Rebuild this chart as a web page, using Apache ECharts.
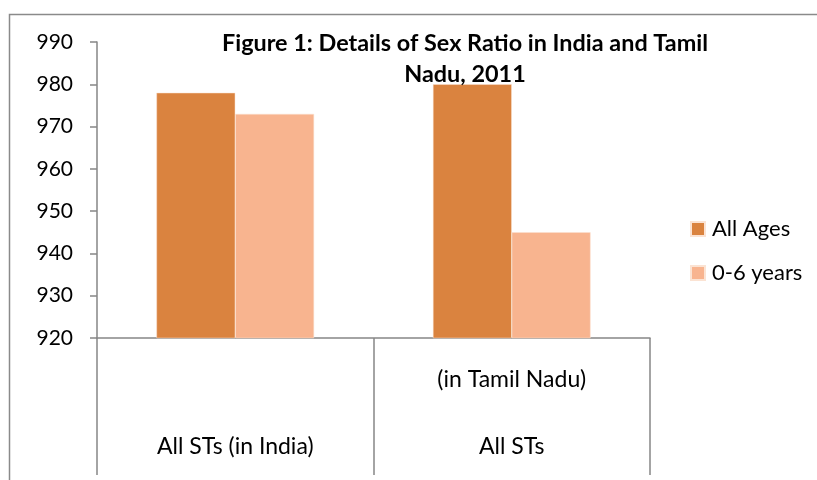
<!DOCTYPE html>
<html><head><meta charset="utf-8">
<script src="https://cdn.jsdelivr.net/npm/echarts@6/dist/echarts.min.js"></script>
<style>html,body{margin:0;padding:0;background:#fff}#c{width:817px;height:480px}</style>
</head><body><div id="c"></div>
<script>
const categories = ['\nAll STs (in India)', '(in Tamil Nadu)\nAll STs'];
const allAges = [978, 980];
const zeroSix = [973, 945];
const seriesNames = ['All Ages', '0-6 years'];
const yTicks = {min: 920, max: 990, interval: 10};
const titleText = 'Figure 1: Details of Sex Ratio in India and Tamil\nNadu, 2011';

const FONT = 'Lato';
const chart = echarts.init(document.getElementById('c'), null, {renderer: 'canvas'});
chart.setOption({
  backgroundColor: '#fff',
  animation: false,
  textStyle: {fontFamily: FONT},
  title: {
    text: titleText, left: 460, top: 23, textAlign: 'center', padding: 5,
    textStyle: {fontFamily: FONT, fontSize: 23.4, fontWeight: 'bold', color: '#000', lineHeight: 31}
  },
  graphic: [{
    type: 'rect', silent: true, z: -1,
    shape: {x: 9.5, y: 14.5, width: 900, height: 600},
    style: {fill: 'none', stroke: '#8a8a8a', lineWidth: 1.5}
  }],
  legend: {
    orient: 'vertical', left: 690, top: 218, itemWidth: 14, itemHeight: 14, itemGap: 22,
    icon: 'rect', padding: 0,
    textStyle: {fontFamily: FONT, fontSize: 22, color: '#000', padding: [0, 0, 0, 2]},
    data: seriesNames
  },
  grid: {left: 97, right: 167, top: 42, bottom: 142, containLabel: false},
  xAxis: {
    type: 'category', data: categories,
    axisLine: {lineStyle: {color: '#868686', width: 1.5}},
    axisTick: {show: true, length: 137, interval: 0, lineStyle: {color: '#868686', width: 1.5}},
    axisLabel: {interval: 0, margin: 8, color: '#000', fontSize: 23, lineHeight: 67, fontFamily: FONT}
  },
  yAxis: {
    type: 'value', min: yTicks.min, max: yTicks.max, interval: yTicks.interval,
    axisLine: {show: true, lineStyle: {color: '#868686', width: 1.5}},
    axisTick: {show: true, length: 7, lineStyle: {color: '#868686', width: 1.5}},
    splitLine: {show: false},
    axisLabel: {margin: 24, color: '#000', fontSize: 21, fontFamily: FONT}
  },
  series: [
    {name: seriesNames[0], type: 'bar', data: allAges, barGap: '0%', barCategoryGap: '43%',
     itemStyle: {color: '#DA833F', borderColor: '#fbe3d3', borderWidth: 0.5}},
    {name: seriesNames[1], type: 'bar', data: zeroSix, barGap: '0%', barCategoryGap: '43%',
     itemStyle: {color: '#F8B48F', borderColor: '#fbe3d3', borderWidth: 0.5}}
  ]
});
</script></body></html>
